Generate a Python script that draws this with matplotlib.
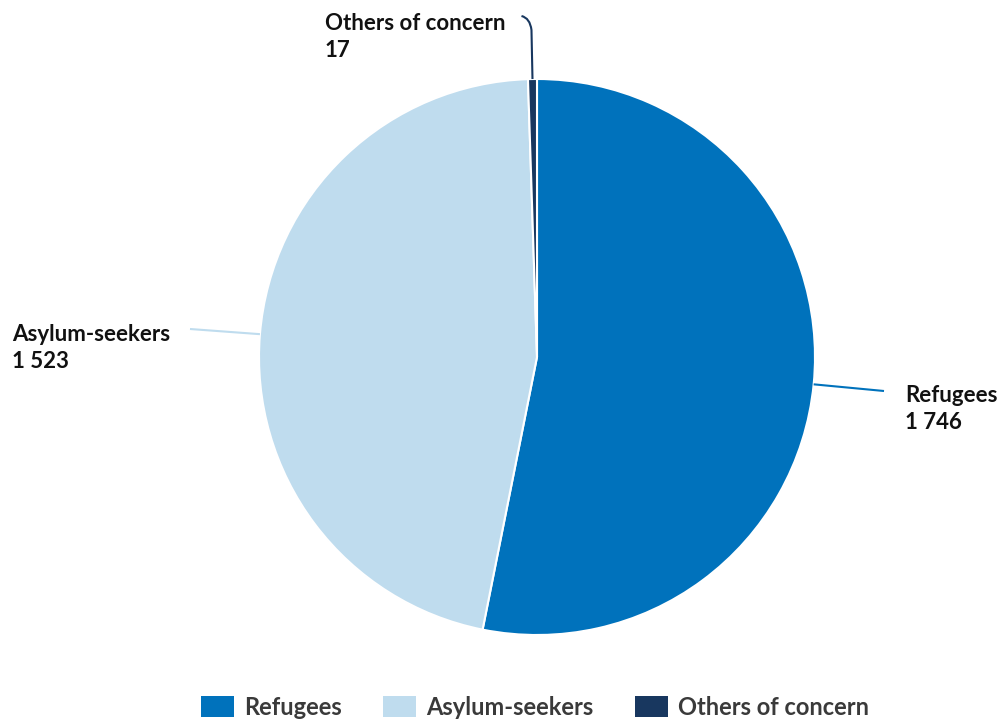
import numpy as np
import matplotlib
matplotlib.use("Agg")
import matplotlib.pyplot as plt
from matplotlib.patches import Patch, PathPatch
from matplotlib.path import Path

categories = ["Refugees", "Asylum-seekers", "Others of concern"]
values = [1746, 1523, 17]
value_labels = ["1 746", "1 523", "17"]
colors = ["#0072BC", "#BFDCEE", "#18375F"]
line_colors = ["#0072BC", "#BFDCEE", "#18375F"]

plt.rcParams['font.family'] = ['Lato', 'DejaVu Sans']

W, H = 998, 725
fig = plt.figure(figsize=(W / 100, H / 100), dpi=100)
ax = fig.add_axes([0, 0, 1, 1])

cx, cy, R = 537, H - 357, 278
wedges, _ = ax.pie(values, colors=colors, startangle=90, counterclock=False,
                   center=(cx, cy), radius=R, frame=True,
                   wedgeprops=dict(edgecolor='white', linewidth=1.5))
ax.set_xlim(0, W)
ax.set_ylim(0, H)
ax.set_aspect('equal')
ax.axis('off')

def edge_point(w, r=R):
    a = np.deg2rad((w.theta1 + w.theta2) / 2)
    return cx + r * np.cos(a), cy + r * np.sin(a)

LFS = 16
# Refugees connector
x0, y0 = edge_point(wedges[0])
ax.plot([x0, 884], [y0, H - 391], color=line_colors[0], lw=1.5, solid_capstyle='butt')
ax.text(905, H - 409, f"{categories[0]}\n{value_labels[0]}", ha='left', va='center',
        fontsize=LFS, fontweight='bold', color='#111111', linespacing=1.35)

# Asylum-seekers connector
x1, y1 = edge_point(wedges[1])
ax.plot([x1, 190], [y1, H - 329], color=line_colors[1], lw=1.5, solid_capstyle='butt')
ax.text(12, H - 348, f"{categories[1]}\n{value_labels[1]}", ha='left', va='center',
        fontsize=LFS, fontweight='bold', color='#111111', linespacing=1.35)

# Others connector (curved)
x2, y2 = edge_point(wedges[2])
verts = [(x2, y2), (x2 - 1, H - 30), (x2 - 2.5, H - 18), (x2 - 11, H - 16)]
codes = [Path.MOVETO, Path.LINETO, Path.CURVE3, Path.CURVE3]
ax.add_patch(PathPatch(Path(verts, codes), fill=False, edgecolor=line_colors[2], lw=1.5))
ax.text(325, H - 37, f"{categories[2]}\n{value_labels[2]}", ha='left', va='center',
        fontsize=LFS, fontweight='bold', color='#111111', linespacing=1.35)

handles = [Patch(facecolor=c, edgecolor='none') for c in colors]
leg = fig.legend(handles, categories, loc='lower center', bbox_to_anchor=(0.536, -0.021),
                 ncol=3, frameon=False, handlelength=1.4, handleheight=1.0,
                 handletextpad=0.42, columnspacing=1.75,
                 prop=dict(family=['Lato', 'DejaVu Sans'], weight='bold', size=17))
for t in leg.get_texts():
    t.set_color('#3a3a3a')

fig.savefig("out.png", dpi=100)
